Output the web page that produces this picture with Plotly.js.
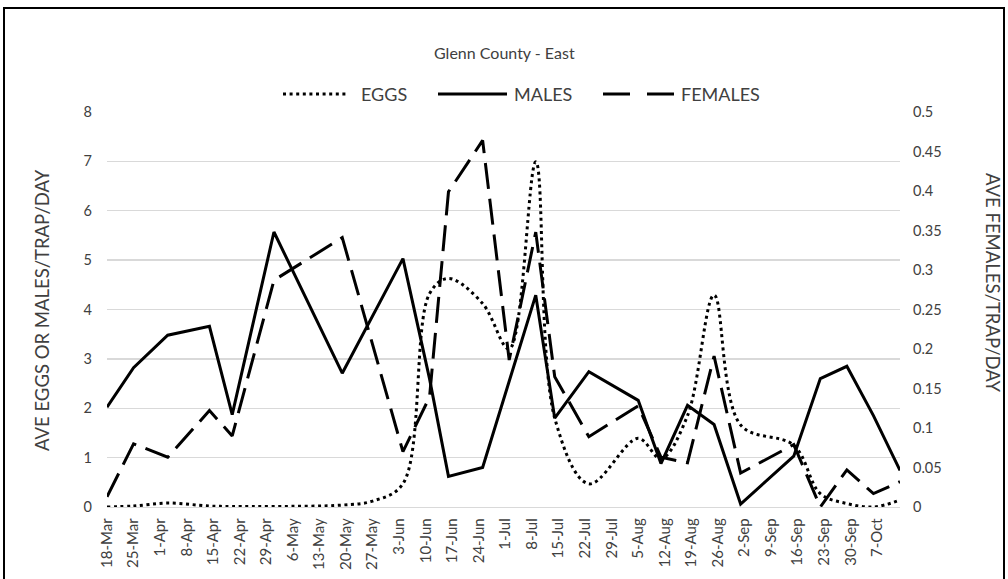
<!DOCTYPE html>
<html>
<head>
<meta charset="utf-8">
<script src="https://cdn.plot.ly/plotly-3.0.1.min.js"></script>
<style>
  html, body { margin: 0; padding: 0; background: #fff; }
  #wrap { position: relative; width: 1008px; height: 579px; overflow: hidden; }
  #chart { position: absolute; left: 0; top: 0; width: 1008px; height: 579px; }
  #frame { position: absolute; left: 3px; top: 7px; width: 998px; height: 600px;
           border: 2px solid #000; border-bottom: none; pointer-events: none; }
</style>
</head>
<body>
<div id="wrap">
  <div id="chart"></div>
  <div id="frame"></div>
</div>
<script>
// Trap collection dates (weekly-ish service visits)
const sampleDates = ['2019-03-18','2019-03-25','2019-04-03','2019-04-14','2019-04-20','2019-05-01',
  '2019-05-19','2019-05-27','2019-06-04','2019-06-11','2019-06-16','2019-06-25','2019-07-02',
  '2019-07-09','2019-07-14','2019-07-23','2019-08-05','2019-08-11','2019-08-18','2019-08-25',
  '2019-09-01','2019-09-15','2019-09-22','2019-09-29','2019-10-06','2019-10-13'];

// Average eggs per trap per day (left axis)
const eggs = [0.00,0.02,0.08,0.02,0.01,0.01,0.04,0.12,0.47,4.32,4.63,4.12,3.20,
  6.99,1.80,0.47,1.39,0.98,1.85,4.29,1.66,1.25,0.27,0.07,0.00,0.14];

// Average males per trap per day (left axis)
const males = [2.02,2.82,3.48,3.66,1.87,5.57,2.71,3.87,5.03,2.60,0.62,0.80,2.55,
  4.29,1.80,2.74,2.16,0.88,2.06,1.67,0.06,1.03,2.60,2.85,1.85,0.74];

// Average females per trap per day (right axis)
const females = [0.013,0.080,0.063,0.122,0.090,0.287,0.341,0.205,0.070,0.139,0.399,0.464,0.186,
  0.348,0.165,0.089,0.128,0.063,0.056,0.191,0.043,0.079,0.000,0.047,0.017,0.032];

// Weekly axis labels starting 18-Mar
const weekLabels = ['18-Mar','25-Mar','1-Apr','8-Apr','15-Apr','22-Apr','29-Apr','6-May','13-May',
  '20-May','27-May','3-Jun','10-Jun','17-Jun','24-Jun','1-Jul','8-Jul','15-Jul','22-Jul','29-Jul',
  '5-Aug','12-Aug','19-Aug','26-Aug','2-Sep','9-Sep','16-Sep','23-Sep','30-Sep','7-Oct'];

const leftTicks = [0,1,2,3,4,5,6,7,8];
const rightTicks = [0,0.05,0.1,0.15,0.2,0.25,0.3,0.35,0.4,0.45,0.5];
const rightTickText = ['0','0.05','0.1','0.15','0.2','0.25','0.3','0.35','0.4','0.45','0.5'];

const chartTitle = 'Glenn County - East';
const leftTitle = 'AVE EGGS OR MALES/TRAP/DAY';
const rightTitle = 'AVE FEMALES/TRAP/DAY';
const seriesNames = ['EGGS','MALES','FEMALES'];

// Weekly tick positions
function addDays(iso, n) {
  const d = new Date(iso + 'T00:00:00Z');
  d.setUTCDate(d.getUTCDate() + n);
  return d.toISOString().slice(0, 10);
}
const weekTicks = weekLabels.map((_, i) => addDays(sampleDates[0], 7 * i));

// Plot geometry
const W = 1008, H = 579, M = {l: 107, r: 108, t: 112, b: 72};
const PW = W - M.l - M.r, PH = H - M.t - M.b;
const px = x => (x - M.l) / PW;
const py = y => (H - M.b - y) / PH;

const FONT = 'Lato, "Open Sans", sans-serif';
const TXT = '#404040';
const LW = 3;
const dashes = {EGGS: '3px,3.6px', MALES: 'solid', FEMALES: '26px,10px'};
const legendDashes = {EGGS: '3px,3.6px', MALES: 'solid', FEMALES: '27px,17px'};

const traces = [
  {x: sampleDates, y: eggs, name: seriesNames[0], type: 'scatter', mode: 'lines',
   line: {color: '#000', width: LW, dash: dashes.EGGS, shape: 'spline', smoothing: 1}},
  {x: sampleDates, y: males, name: seriesNames[1], type: 'scatter', mode: 'lines',
   line: {color: '#000', width: LW, dash: dashes.MALES}},
  {x: sampleDates, y: females, name: seriesNames[2], type: 'scatter', mode: 'lines', yaxis: 'y2',
   line: {color: '#000', width: LW, dash: dashes.FEMALES}}
];

// Legend row drawn as line samples with labels
const legendItems = [
  {name: seriesNames[0], x0: 283, x1: 348, tx: 359},
  {name: seriesNames[1], x0: 438, x1: 507, tx: 512},
  {name: seriesNames[2], x0: 603, x1: 674, tx: 679}
];
const legendY = 94;
const shapes = legendItems.map(it => ({
  type: 'line', xref: 'paper', yref: 'paper',
  x0: px(it.x0), x1: px(it.x1), y0: py(legendY), y1: py(legendY),
  line: {color: '#000', width: LW, dash: legendDashes[it.name]}
}));

const annotations = [
  {text: chartTitle, x: px(504), y: py(52), xanchor: 'center', yanchor: 'middle',
   font: {size: 16, color: TXT, family: FONT}},
  {text: leftTitle, x: px(42), y: py(310), textangle: -90, xanchor: 'center', yanchor: 'middle',
   font: {size: 18.5, color: TXT, family: FONT}},
  {text: rightTitle, x: px(993), y: py(283), textangle: 90, xanchor: 'center', yanchor: 'middle',
   font: {size: 18.5, color: TXT, family: FONT}}
].concat(legendItems.map(it => ({
  text: it.name, x: px(it.tx), y: py(legendY), xanchor: 'left', yanchor: 'middle',
  font: {size: 18, color: TXT, family: FONT}
}))).map(a => Object.assign({xref: 'paper', yref: 'paper', showarrow: false}, a));

const layout = {
  width: W, height: H,
  margin: M,
  paper_bgcolor: '#fff', plot_bgcolor: '#fff',
  showlegend: false,
  font: {family: FONT, color: TXT, size: 14},
  xaxis: {
    type: 'date', range: [sampleDates[0], sampleDates[sampleDates.length - 1]],
    tickmode: 'array', tickvals: weekTicks, ticktext: weekLabels,
    tickangle: -90, tickfont: {size: 15, color: TXT, family: FONT},
    showgrid: false, zeroline: false, showline: true, linecolor: '#d9d9d9', linewidth: 1.3,
    ticks: '', ticklabelstandoff: 4, fixedrange: true
  },
  yaxis: {
    range: [0, 8], tickmode: 'array', tickvals: leftTicks,
    tickfont: {size: 14.5, color: TXT, family: FONT},
    showgrid: true, gridcolor: '#d9d9d9', gridwidth: 1.3, zeroline: false, showline: false,
    ticks: '', ticklabelstandoff: 14, fixedrange: true
  },
  yaxis2: {
    range: [0, 0.5], overlaying: 'y', side: 'right', tickmode: 'array',
    tickvals: rightTicks, ticktext: rightTickText,
    tickfont: {size: 14.5, color: TXT, family: FONT},
    showgrid: false, zeroline: false, showline: false,
    ticks: '', ticklabelstandoff: 12, fixedrange: true
  },
  shapes: shapes,
  annotations: annotations
};

Plotly.newPlot('chart', traces, layout, {staticPlot: true, displayModeBar: false});
</script>
</body>
</html>
